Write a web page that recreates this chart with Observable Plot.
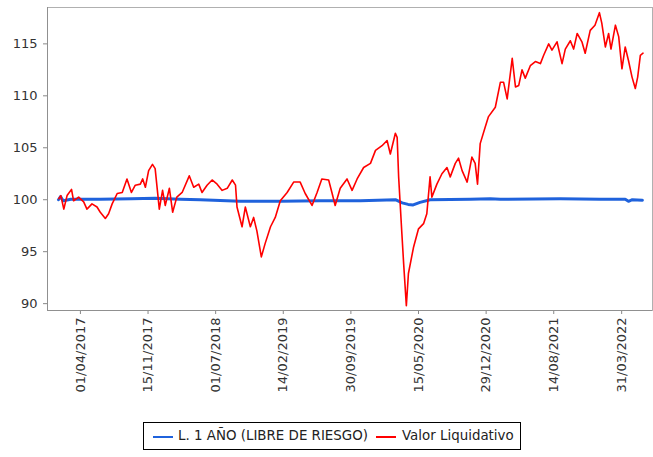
<!DOCTYPE html>
<html>
<head>
<meta charset="utf-8">
<script src="https://cdn.jsdelivr.net/npm/d3@7"></script>
<script src="https://cdn.jsdelivr.net/npm/@observablehq/plot@0.6"></script>
<style>
  html, body { margin: 0; padding: 0; background: #fff; }
  #wrap { position: relative; width: 653px; height: 457px; font-family: "DejaVu Sans", sans-serif; }
  #legend { position: absolute; left: 143px; top: 422px; width: 376px; height: 26px; border: 1px solid #000; background: #fff; }
  #legend .sw { position: absolute; top: 13px; width: 20px; height: 2px; }
  #legend .lb { position: absolute; top: 5px; font-size: 13.4px; color: #222; white-space: nowrap; line-height: 16px; }
</style>
</head>
<body>
<div id="wrap"><div id="chart"></div><div id="legend"></div></div>
<script>
// Series names and colours
const seriesNames = ["L. 1 AÑO (LIBRE DE RIESGO)", "Valor Liquidativo"];
const seriesColors = ["#1f62dc", "#ff0000"];

// Valor Liquidativo (red)
const redDates = [
  "2017-01-18","2017-01-25","2017-02-04","2017-02-15","2017-03-02","2017-03-09","2017-03-26","2017-04-12","2017-04-23","2017-05-10",
  "2017-05-27","2017-06-07","2017-06-24","2017-07-05","2017-07-17","2017-08-03","2017-08-20","2017-09-05","2017-09-20","2017-10-03",
  "2017-10-20","2017-10-28","2017-11-06","2017-11-17","2017-11-30","2017-12-09","2017-12-23","2018-01-03","2018-01-12","2018-01-26",
  "2018-02-06","2018-02-20","2018-03-10","2018-04-03","2018-04-18","2018-05-05","2018-05-16","2018-06-02","2018-06-19","2018-07-06",
  "2018-07-23","2018-08-09","2018-08-26","2018-09-06","2018-09-11","2018-09-28","2018-10-09","2018-10-26","2018-11-06","2018-11-17",
  "2018-12-02","2018-12-15","2019-01-02","2019-01-18","2019-02-04","2019-02-27","2019-03-21","2019-04-12","2019-04-29","2019-05-22",
  "2019-06-08","2019-06-24","2019-07-17","2019-07-28","2019-08-08","2019-08-25","2019-09-17","2019-10-04","2019-10-21","2019-11-12",
  "2019-12-05","2019-12-22","2020-01-13","2020-01-30","2020-02-10","2020-02-27","2020-03-04","2020-03-09","2020-03-20","2020-03-26",
  "2020-04-04","2020-04-11","2020-04-28","2020-05-15","2020-06-01","2020-06-12","2020-06-23","2020-06-29","2020-07-16","2020-08-02",
  "2020-08-19","2020-08-30","2020-09-16","2020-09-27","2020-10-09","2020-10-26","2020-11-11","2020-11-22","2020-11-30","2020-12-09",
  "2020-12-26","2021-01-06","2021-01-29","2021-02-15","2021-02-26","2021-03-10","2021-03-27","2021-04-07","2021-04-18","2021-04-29",
  "2021-05-10","2021-05-27","2021-06-13","2021-06-30","2021-07-11","2021-07-28","2021-08-08","2021-08-25","2021-09-11","2021-09-22",
  "2021-10-09","2021-10-20","2021-11-01","2021-11-17","2021-11-28","2021-12-15","2021-12-31","2022-01-15","2022-01-23","2022-02-04",
  "2022-02-15","2022-02-23","2022-03-10","2022-03-21","2022-04-01","2022-04-12","2022-04-23","2022-05-05","2022-05-16","2022-05-24",
  "2022-06-02","2022-06-11"
];
const redValues = [
  100.1,100.4,99.1,100.4,101.0,99.9,100.25,99.8,99.1,99.6,
  99.3,98.8,98.2,98.65,99.6,100.6,100.7,102.0,100.7,101.4,
  101.5,102.0,101.2,102.8,103.4,103.0,99.1,100.9,99.45,101.1,
  98.8,100.25,100.7,102.3,101.2,101.5,100.7,101.4,101.9,101.5,
  100.9,101.1,101.9,101.4,99.3,97.4,99.3,97.4,98.3,97.0,
  94.5,95.8,97.4,98.3,99.9,100.7,101.7,101.7,100.6,99.45,
  100.7,102.0,101.9,100.7,99.45,101.1,102.0,100.9,102.0,103.1,
  103.5,104.75,105.2,105.7,104.4,106.4,106.0,102.2,96.7,93.8,
  89.8,92.9,95.4,97.2,97.7,98.65,102.2,100.25,101.5,102.5,
  103.1,102.2,103.5,104.0,102.8,101.7,104.1,103.5,101.5,105.4,
  107.0,108.0,108.9,111.3,111.3,109.7,113.6,110.85,111.0,112.5,
  111.7,112.9,113.3,113.1,113.9,115.0,114.4,115.2,113.1,114.5,
  115.3,114.5,116.0,115.2,114.1,116.3,116.8,118.0,117.0,114.7,
  116.0,114.5,116.8,115.7,112.6,114.7,113.4,111.8,110.7,111.8,
  113.9,114.1
];

// L. 1 AÑO (LIBRE DE RIESGO) (blue)
const blueDates = [
  "2017-01-17","2017-01-24","2017-02-02","2017-02-28","2017-06-07","2017-09-20","2017-12-09","2018-03-04","2018-05-10","2018-09-22",
  "2019-02-04","2019-06-19","2019-11-01","2020-02-27","2020-03-21","2020-04-10","2020-04-27","2020-05-20","2020-06-23","2020-11-06",
  "2021-01-12","2021-02-15","2021-09-05","2022-01-18","2022-04-12","2022-04-23","2022-05-06","2022-06-09"
];
const blueValues = [
  100.0,100.3,99.9,100.05,100.05,100.1,100.15,100.05,100.0,99.85,
  99.85,99.9,99.9,100.0,99.7,99.55,99.5,99.75,100.0,100.05,
  100.1,100.05,100.1,100.05,100.05,99.85,100.0,99.95
];

// Axis ticks
const xTickDates = ["2017-04-01","2017-11-15","2018-07-01","2019-02-14","2019-09-30","2020-05-15","2020-12-29","2021-08-14","2022-03-31"];
const yTicks = [90, 95, 100, 105, 110, 115];

const parse = d3.utcParse("%Y-%m-%d");
const fmt = d3.utcFormat("%d/%m/%Y");
const red = redDates.map((d, i) => ({date: parse(d), value: redValues[i]}));
const blue = blueDates.map((d, i) => ({date: parse(d), value: blueValues[i]}));

const chart = Plot.plot({
  width: 653,
  height: 415,
  marginLeft: 47,
  marginRight: 1,
  marginTop: 7,
  marginBottom: 105,
  style: {fontFamily: "DejaVu Sans", fontSize: "13px", background: "#fff", color: "#333"},
  x: {type: "utc", domain: [parse("2016-12-11"), parse("2022-07-13")]},
  y: {domain: [89.34, 118.5]},
  marks: [
    Plot.frame({stroke: "#b0b0b0"}),
    Plot.axisX({ticks: xTickDates.map(parse), tickFormat: fmt, tickRotate: -90, tickSize: 4, tickPadding: 3, stroke: "#888", fill: "#333", label: null}),
    Plot.axisY({ticks: yTicks, tickSize: 4, tickPadding: 6, stroke: "#888", fill: "#333", label: null}),
    Plot.ruleX([parse("2016-12-11")], {stroke: "#909090"}),
    Plot.ruleY([89.34], {stroke: "#909090"}),
    Plot.lineY(blue, {x: "date", y: "value", stroke: seriesColors[0], strokeWidth: 3}),
    Plot.lineY(red, {x: "date", y: "value", stroke: seriesColors[1], strokeWidth: 1.6})
  ]
});
document.getElementById("chart").appendChild(chart);

// Legend
const legend = document.getElementById("legend");
const items = [
  {sw: 9, lb: 34},
  {sw: 232, lb: 258}
];
seriesNames.forEach((name, i) => {
  const s = document.createElement("span");
  s.className = "sw";
  s.style.left = items[i].sw + "px";
  s.style.background = seriesColors[i];
  legend.appendChild(s);
  const t = document.createElement("span");
  t.className = "lb";
  t.style.left = items[i].lb + "px";
  t.textContent = name;
  legend.appendChild(t);
});
</script>
</body>
</html>
